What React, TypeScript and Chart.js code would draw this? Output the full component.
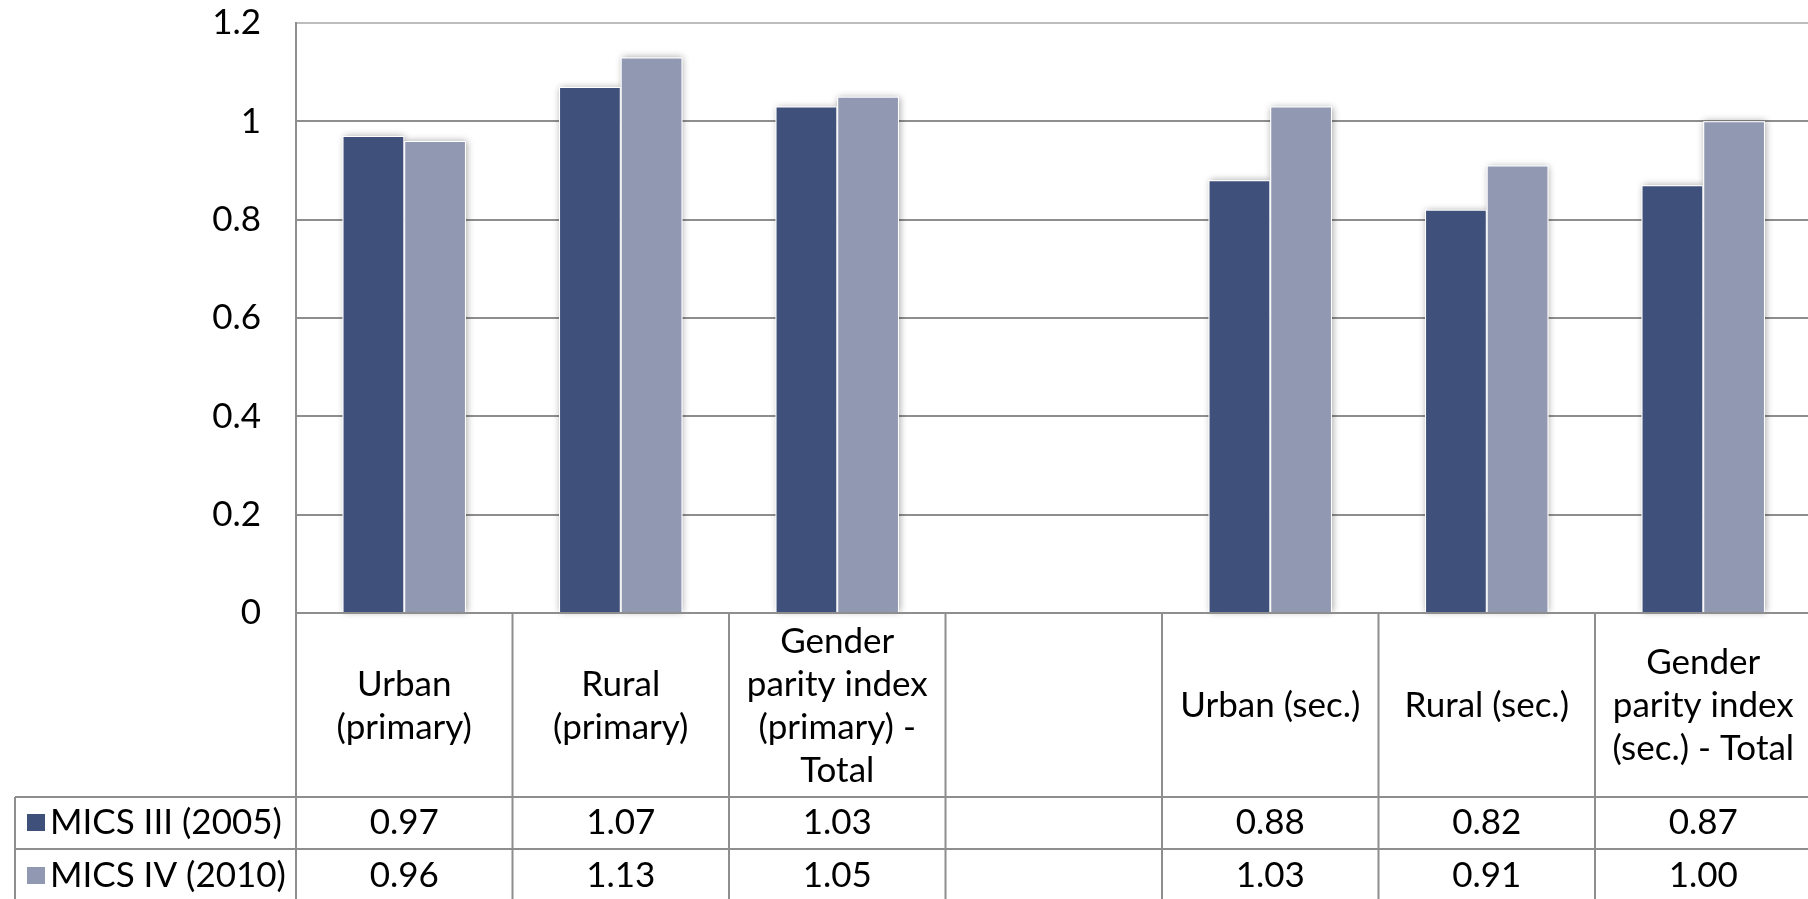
import React, { useEffect, useRef } from "react";
import { Chart, registerables } from "chart.js";

Chart.register(...registerables);

// ---- data ----
const categories: string[][] = [
  ["Urban", "(primary)"],
  ["Rural", "(primary)"],
  ["Gender", "parity index", "(primary) -", "Total"],
  [""],
  ["Urban (sec.)"],
  ["Rural (sec.)"],
  ["Gender", "parity index", "(sec.) - Total"],
];
const seriesNames = ["MICS III (2005)", "MICS IV (2010)"];
const mics2005: (number | null)[] = [0.97, 1.07, 1.03, null, 0.88, 0.82, 0.87];
const mics2010: (number | null)[] = [0.96, 1.13, 1.05, null, 1.03, 0.91, 1.0];
const yTickValues = [0, 0.2, 0.4, 0.6, 0.8, 1, 1.2];

// ---- styles ----
const seriesColors = ["#3F507A", "#9198B2"];
const FONT = "Lato";
const FONT_SIZE = 35;
const LINE_COLOR = "#8e8e8e";
const CANVAS_W = 1830;
const CANVAS_H = 899;

const shadowPlugin = {
  id: "barShadow",
  beforeDatasetsDraw(chart: any) {
    const ctx = chart.ctx;
    chart.data.datasets.forEach((ds: any, di: number) => {
      const meta = chart.getDatasetMeta(di);
      meta.data.forEach((el: any, i: number) => {
        if (ds.data[i] == null) return;
        const p = el.getProps(["x", "y", "base", "width"], true);
        ctx.save();
        ctx.shadowColor = "rgba(0,0,0,0.35)";
        ctx.shadowBlur = 7;
        ctx.shadowOffsetX = 1;
        ctx.shadowOffsetY = 0;
        ctx.fillStyle = "#ffffff";
        ctx.fillRect(p.x - p.width / 2, p.y, p.width, p.base - p.y);
        ctx.restore();
      });
    });
  },
};

const tablePlugin = {
  id: "dataTable",
  afterDraw(chart: any) {
    const ctx = chart.ctx;
    const xs = chart.scales.x;
    const area = chart.chartArea;
    const n = categories.length;
    const step = xs.getPixelForValue(1) - xs.getPixelForValue(0);
    const left = xs.getPixelForValue(0) - step / 2;
    const right = left + n * step;
    const top = area.bottom;
    const headerBottom = top + 184;
    const row1Bottom = headerBottom + 52;
    const row2Bottom = row1Bottom + 54;
    const legendLeft = 15;

    ctx.save();
    ctx.strokeStyle = LINE_COLOR;
    ctx.lineWidth = 2;
    const line = (x1: number, y1: number, x2: number, y2: number) => {
      ctx.beginPath();
      ctx.moveTo(x1, y1);
      ctx.lineTo(x2, y2);
      ctx.stroke();
    };
    line(left, top, right, top);
    line(legendLeft, headerBottom, right, headerBottom);
    line(legendLeft, row1Bottom, right, row1Bottom);
    line(legendLeft, headerBottom, legendLeft, row2Bottom);
    for (let i = 0; i <= n; i++) {
      const xi = left + i * step;
      line(xi, top, xi, row2Bottom);
    }

    ctx.fillStyle = "#000";
    ctx.font = `${FONT_SIZE}px ${FONT}`;
    ctx.textAlign = "center";
    ctx.textBaseline = "middle";
    const lh = 43;
    const headerMid = (top + headerBottom) / 2 + 1;
    categories.forEach((lines, i) => {
      const cx = xs.getPixelForValue(i);
      const startY = headerMid - ((lines.length - 1) * lh) / 2;
      lines.forEach((t, k) => ctx.fillText(t, cx, startY + k * lh));
    });

    const rows = [mics2005, mics2010];
    const rowMids = [(headerBottom + row1Bottom) / 2, (row1Bottom + row2Bottom) / 2];
    rows.forEach((vals, r) => {
      vals.forEach((v, i) => {
        if (v == null) return;
        ctx.fillText(v.toFixed(2), xs.getPixelForValue(i), rowMids[r]);
      });
      ctx.fillStyle = seriesColors[r];
      ctx.fillRect(27, rowMids[r] - 9, 18, 17);
      ctx.fillStyle = "#000";
      ctx.textAlign = "left";
      ctx.fillText(seriesNames[r], 50, rowMids[r]);
      ctx.textAlign = "center";
    });
    ctx.restore();
  },
};

export default function App() {
  const ref = useRef<HTMLCanvasElement | null>(null);
  useEffect(() => {
    if (!ref.current) return;
    const chart = new Chart(ref.current, {
      type: "bar",
      data: {
        labels: categories.map((c) => c.join(" ")),
        datasets: [
          {
            label: seriesNames[0],
            data: mics2005,
            backgroundColor: seriesColors[0],
            borderColor: "#ffffff",
            borderWidth: 1,
            categoryPercentage: 0.57,
            barPercentage: 1.0,
          },
          {
            label: seriesNames[1],
            data: mics2010,
            backgroundColor: seriesColors[1],
            borderColor: "#ffffff",
            borderWidth: 1,
            categoryPercentage: 0.57,
            barPercentage: 1.0,
          },
        ],
      },
      options: {
        responsive: false,
        animation: false,
        devicePixelRatio: 1,
        layout: { padding: { left: 0, top: 23, right: CANVAS_W - 1811.5, bottom: CANVAS_H - 613 } },
        plugins: { legend: { display: false }, tooltip: { enabled: false } },
        scales: {
          x: { display: false },
          y: {
            min: 0,
            max: 1.2,
            afterFit: (s: any) => {
              s.width = 296;
              s.paddingTop = 0;
              s.paddingBottom = 0;
            },
            afterBuildTicks: (s: any) => {
              s.ticks = yTickValues.map((v) => ({ value: v }));
            },
            ticks: {
              padding: 35,
              color: "#000",
              font: { family: FONT, size: FONT_SIZE },
              callback: (v: any) => String(Math.round(Number(v) * 10) / 10),
            },
            grid: {
              drawTicks: false,
              lineWidth: 2,
              color: (c: any) => (c.index === yTickValues.length - 1 ? "#bdbdbd" : LINE_COLOR),
            },
            border: { display: true, color: LINE_COLOR, width: 2 },
          },
        },
      },
      plugins: [shadowPlugin, tablePlugin],
    });
    return () => chart.destroy();
  }, []);

  return (
    <div
      style={{
        position: "fixed",
        left: 0,
        top: 0,
        width: 1808,
        height: 899,
        overflow: "hidden",
        background: "#fff",
      }}
    >
      <canvas ref={ref} width={CANVAS_W} height={CANVAS_H} style={{ display: "block" }} />
    </div>
  );
}
